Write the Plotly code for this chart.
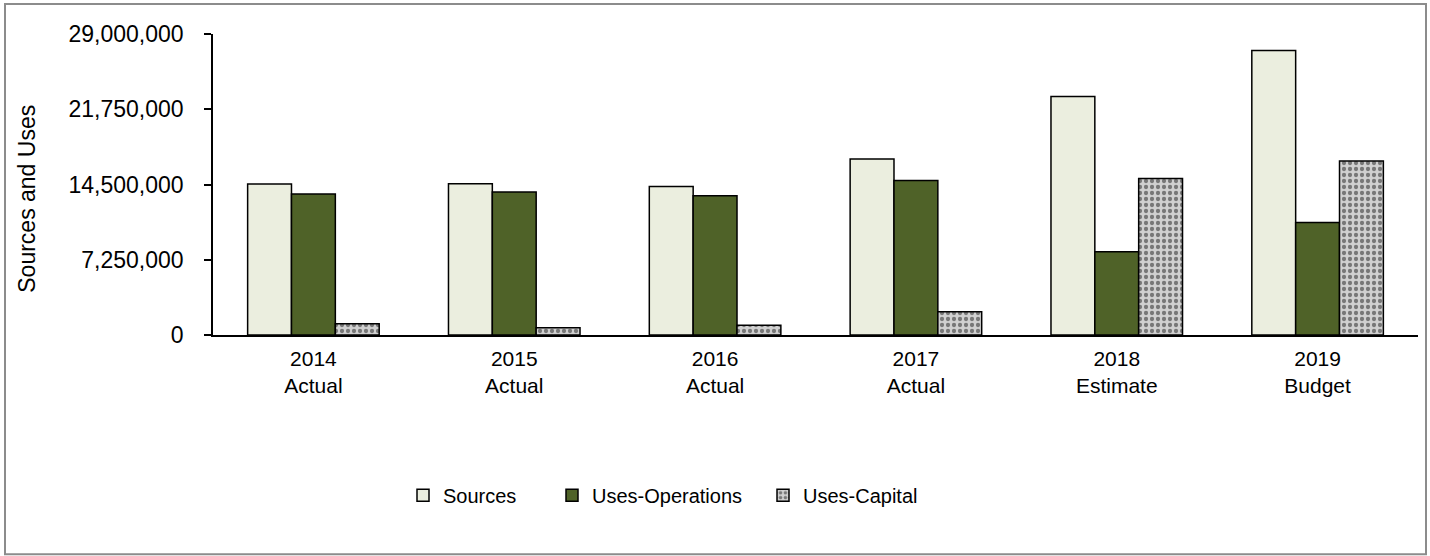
import plotly.graph_objects as go

categories = ["2014<br>Actual", "2015<br>Actual", "2016<br>Actual", "2017<br>Actual", "2018<br>Estimate", "2019<br>Budget"]
sources = [14540000, 14570000, 14310000, 16950000, 22970000, 27400000]
uses_operations = [13580000, 13770000, 13420000, 14890000, 8030000, 10850000]
uses_capital = [1080000, 690000, 940000, 2230000, 15080000, 16760000]
y_ticks = [0, 7250000, 14500000, 21750000, 29000000]
y_title = "Sources and Uses"

FONT = "Liberation Sans, Arial, sans-serif"
line = dict(color="black", width=1.5)

fig = go.Figure()
fig.add_trace(go.Bar(name="Sources", x=categories, y=sources, showlegend=True,
                     marker=dict(color="#EBEEDF", line=line), legend="legend"))
fig.add_trace(go.Bar(name="Uses-Operations", x=categories, y=uses_operations, showlegend=True,
                     marker=dict(color="#4F6228", line=line), legend="legend2"))
fig.add_trace(go.Bar(name="Uses-Capital", x=categories, y=uses_capital, showlegend=True,
                     marker=dict(color="#BDBDBD", line=line,
                                 pattern=dict(shape=".", fgcolor="#777777", bgcolor="#D0D0D0",
                                              size=6, solidity=0.4, fillmode="replace")),
                     legend="legend3"))

L, T, PW, PH = 213, 34, 1205, 301.5
legend_y = (T + PH - 496) / PH
legend_common = dict(orientation="h", yanchor="middle", xanchor="left", y=legend_y,
                     font=dict(family=FONT, size=20, color="black"),
                     bgcolor="rgba(0,0,0,0)", itemwidth=30)

fig.update_layout(
    width=1430, height=556,
    margin=dict(l=L, r=1430 - L - PW, t=T, b=556 - T - PH),
    paper_bgcolor="white", plot_bgcolor="white",
    showlegend=True,
    barmode="group", bargap=0.345, bargroupgap=0,
    font=dict(family=FONT, size=21, color="black"),
    legend=dict(x=(403 - L) / PW, **legend_common),
    legend2=dict(x=(552 - L) / PW, **legend_common),
    legend3=dict(x=(763 - L) / PW, **legend_common),
    xaxis=dict(showline=True, linecolor="black", linewidth=1.5, ticks="",
               ticklabelstandoff=4,
               tickfont=dict(family=FONT, size=21, color="black"), showgrid=False),
    yaxis=dict(range=[0, 29000000], tickvals=y_ticks, tickformat=",d",
               showline=True, linecolor="black", linewidth=1.5,
               ticks="outside", ticklen=7, tickcolor="black", tickwidth=1.5,
               ticklabelstandoff=16,
               showgrid=False, zeroline=False,
               tickfont=dict(family=FONT, size=23, color="black")),
    annotations=[dict(text=y_title, textangle=-90, showarrow=False,
                      xref="paper", yref="paper",
                      x=(27 - L) / PW, y=(T + PH - 199) / PH,
                      xanchor="center", yanchor="middle",
                      font=dict(family=FONT, size=23, color="black"))],
    shapes=[dict(type="rect", xref="paper", yref="paper",
                 x0=(5 - L) / PW, x1=(1426 - L) / PW,
                 y0=(T + PH - 555) / PH, y1=(T + PH - 4) / PH,
                 line=dict(color="#8C8C8C", width=2), fillcolor="rgba(0,0,0,0)", layer="below")],
)

fig.write_html("out.html", config={"displayModeBar": False},
               post_script="document.body.style.margin='0';document.body.style.overflow='hidden';")
